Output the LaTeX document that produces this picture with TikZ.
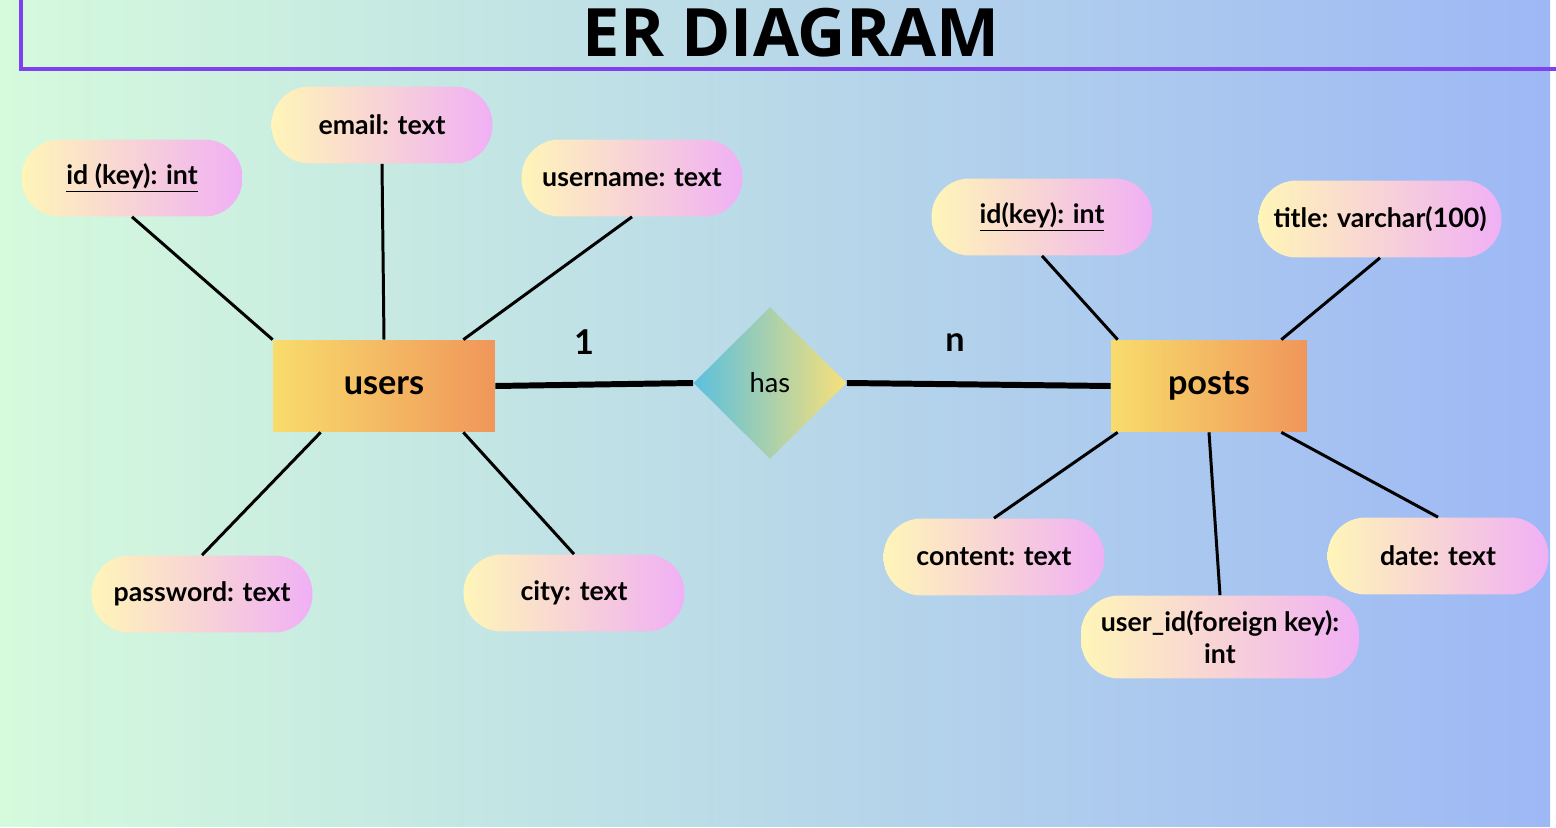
\documentclass[tikz,border=0pt]{standalone}
\usepackage{fontspec}
\setmainfont{Lato}
\setsansfont{Lato}
\newfontfamily\titlefont{Open Sans}
\usepackage{tikz}
\usetikzlibrary{shapes.geometric}
\definecolor{cpurple}{RGB}{128,64,240}
\definecolor{cmint}{RGB}{213,250,220}
\definecolor{cblue}{RGB}{157,184,245}
\definecolor{cyellow}{RGB}{248,220,108}
\definecolor{corange}{RGB}{240,150,90}
\definecolor{ccream}{RGB}{255,245,184}
\definecolor{cpink}{RGB}{240,176,245}
\definecolor{cteal}{RGB}{91,192,222}
\definecolor{clemon}{RGB}{248,224,122}

\begin{document}
\begin{tikzpicture}[x=0.02cm,y=-0.02cm,
  entity node/.style={rectangle,left color=cyellow,right color=corange,minimum height=1.84cm,font=\sffamily\fontsize{19.5}{22}\selectfont\bfseries},
  attr node/.style={rectangle,rounded corners=0.76cm,left color=ccream,right color=cpink,minimum width=4.42cm,minimum height=1.54cm,align=center,font=\sffamily\fontsize{15.2}{18.5}\selectfont\bfseries},
  rel node/.style={diamond,left color=cteal,right color=clemon,minimum width=3.06cm,minimum height=3.04cm,inner sep=0pt,font=\sffamily\fontsize{15.5}{17}\selectfont},
  attr edge/.style={line width=1.7pt},
  rel edge/.style={line width=3.4pt}]
  \useasboundingbox (0,0) rectangle (1556,828);
  \fill[white] (0,0) rectangle (1556,828);
  \fill[left color=cmint,right color=cblue] (0,0) rectangle (1550,826);
  \draw[cpurple,line width=2.3pt] (21,-10) -- (21,69) -- (1570,69);
  \node (title) at (791,33) {\titlefont\bfseries\fontsize{38}{46}\selectfont ER DIAGRAM};

  % entities and relation
  \node[entity node,minimum width=4.44cm] (users) at (384,386) {users};
  \node[entity node,minimum width=3.92cm] (posts) at (1209,386) {posts};
  \node[rel node] (has) at (770,383) {has};

  % attributes of users
  \node[attr node] (u1) at (132,178) {\underline{id (key): int}};
  \node[attr node] (u2) at (382,125) {email: text};
  \node[attr node] (u3) at (632,178) {username: text};
  \node[attr node] (u4) at (202,594) {password: text};
  \node[attr node] (u5) at (574,593) {city: text};

  % attributes of posts
  \node[attr node] (p1) at (1042,217) {\underline{id(key): int}};
  \node[attr node,minimum width=4.86cm] (p2) at (1380,219) {title: varchar(100)};
  \node[attr node] (p3) at (994,557) {content: text};
  \node[attr node,minimum width=5.56cm,minimum height=1.66cm] (p4) at (1220,637) {user\_id(foreign key):\\ int};
  \node[attr node] (p5) at (1438,556) {date: text};

  \node[font=\sffamily\fontsize{19.5}{22}\selectfont\bfseries] (one) at (584,342) {1};
  \node[font=\sffamily\fontsize{19.5}{22}\selectfont\bfseries] (many) at (955,343) {n};

  \draw[attr edge] (u1.south) -- (users.north west);
  \draw[attr edge] (u2.south) -- (users.north);
  \draw[attr edge] (u3.south) -- ([xshift=-0.64cm]users.north east);
  \draw[attr edge] (u4.north) -- ([xshift=0.96cm]users.south west);
  \draw[attr edge] (u5.north) -- ([xshift=-0.64cm]users.south east);
  \draw[rel edge] (users.east) -- (has.west);
  \draw[rel edge] (has.east) -- (posts.west);
  \draw[attr edge] (p1.south) -- ([xshift=0.14cm]posts.north west);
  \draw[attr edge] (p2.south) -- ([xshift=-0.52cm]posts.north east);
  \draw[attr edge] (p3.north) -- ([xshift=0.14cm]posts.south west);
  \draw[attr edge] (p4.north) -- (posts.south);
  \draw[attr edge] (p5.north) -- ([xshift=-0.52cm]posts.south east);
\end{tikzpicture}
\end{document}
